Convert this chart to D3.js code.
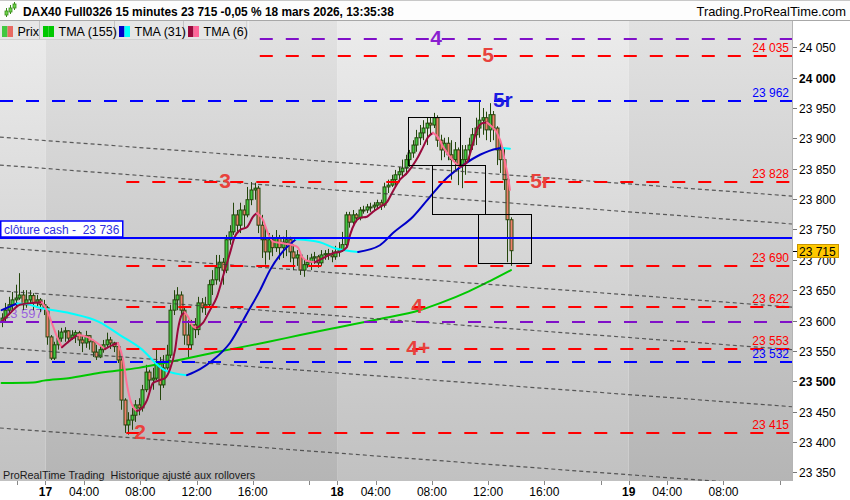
<!DOCTYPE html>
<html><head><meta charset="utf-8">
<script src="https://cdn.jsdelivr.net/npm/d3@7"></script>
<style>body{margin:0;background:#fff;}svg{display:block;font-family:"Liberation Sans",Arial,sans-serif;}</style>
</head><body><svg id="c" width="850" height="500"></svg>
<script>
// ---------------- DATA ----------------
const sessionDays = ["16", "17", "18", "19"];
const barsPerSession = 83;            // 01:15 -> 22:00, 15-minute bars
const sessionOpenHour = 1.25;
const visibleBarsDay16 = 13;
const viewWindow = [-12.95, 212.5];   // visible bar slots
const firstOpen = 23598;
const closes = [23604,23617,23626,23634,23637,23642,23626,23634,23641,23629,23634,23626,23621,
23573,23538,23560,23571,23581,23583,23571,23576,23580,23568,23563,23575,23565,23548,23540,23552,23560,23568,23563,23557,
23535,23469,23428,23436,23444,23461,23456,23486,23515,23502,23505,23532,23494,23522,23543,23617,23634,23642,23617,23576,
23560,23593,23585,23629,23621,23626,23659,23667,23687,23696,23683,23733,23746,23774,23757,23782,23774,23799,23815,23818,
23757,23733,23713,23733,23720,23736,23720,23729,23733,23713,23703,23708,23683,23692,23696,23703,23705,23695,23708,23710,
23708,23705,23713,
23716,23725,23774,23762,23774,23769,23782,23782,23787,23787,23790,23794,23790,23820,23823,23832,23840,23845,23851,23865,
23876,23889,23901,23909,23917,23925,23922,23934,23897,23881,23892,23873,23865,23881,23856,23865,23881,23889,23906,23917,
23930,23934,23914,23939,23917,23881,23865,23832,23766,23715];
const highs = [23612,23629,23639,23647,23659,23678,23650,23650,23650,23645,23642,23637,23634,
23624,23576,23565,23584,23588,23589,23584,23584,23584,23583,23576,23583,23576,23568,23560,23560,23568,23580,23573,23565,
23560,23543,23472,23449,23456,23469,23472,23494,23527,23519,23522,23552,23540,23543,23560,23626,23650,23655,23648,23621,
23601,23601,23604,23639,23637,23639,23667,23683,23708,23708,23703,23741,23757,23794,23782,23794,23790,23820,23828,23827,
23822,23774,23757,23744,23741,23749,23741,23738,23749,23738,23725,23716,23712,23700,23708,23710,23713,23708,23716,23716,
23718,23716,23723,
23729,23746,23779,23779,23782,23777,23787,23789,23792,23794,23795,23799,23799,23827,23832,23840,23848,23853,23865,23873,
23881,23897,23914,23922,23930,23934,23935,23942,23938,23906,23901,23902,23897,23894,23885,23889,23889,23901,23917,23934,
23963,23950,23944,23958,23945,23920,23897,23884,23835,23770];
const lows = [23589,23598,23609,23617,23621,23634,23617,23621,23626,23617,23621,23614,23609,
23560,23535,23535,23552,23565,23565,23565,23568,23563,23558,23548,23555,23552,23540,23535,23538,23547,23555,23553,23548,
23530,23453,23415,23412,23420,23433,23444,23450,23482,23486,23486,23502,23469,23489,23519,23538,23609,23617,23609,23560,
23540,23552,23571,23576,23613,23609,23621,23642,23659,23664,23659,23678,23725,23741,23746,23744,23753,23770,23790,23799,
23744,23703,23692,23700,23706,23713,23700,23703,23706,23696,23683,23690,23675,23672,23687,23683,23693,23687,23690,23700,
23700,23696,23700,
23705,23713,23720,23753,23758,23762,23765,23776,23777,23779,23782,23785,23782,23786,23810,23820,23823,23828,23836,23840,
23853,23868,23878,23889,23897,23889,23906,23917,23886,23864,23869,23864,23832,23848,23823,23818,23840,23864,23881,23889,
23901,23906,23897,23894,23897,23856,23843,23815,23696,23690];

// moving averages (bar index, value)
const tma155Bar = [0,9,12,19,28,39,48,62,76,85,96,108,119,125,133,139,145];
const tma155Val = [23497,23498,23501,23505,23514,23522,23532,23549,23565,23576,23589,23603,23617,23629,23648,23665,23683];
const tma31Bar = [0,4.4,7.2,10.9,19.5,28,33.7,39.4,46.5,52.8,56.5,60.2,65,69.9,73.6,76.4,80.4,83.8,90.6,94.9,101.5,107.7,111.4,117.1,122,126.8,131.4,136.2,141,142.5,144.7];
const tma31Val = [23617,23628,23627,23621,23612,23597,23576,23555,23518,23510,23520,23535,23563,23612,23650,23683,23716,23734,23729,23719,23713,23724,23744,23771,23804,23835,23856,23873,23883,23884,23883];
const tma6Bar = [0,2.4,5.2,8.9,11.5,12.9,14.3,15.8,17.2,18.6,20.3,21.7,24.3,27.2,29.4,31.7,33.1,34.6,35.7,36.8,38.5,39.4,41.4,43.1,45.1,46.5,47.9,49.4,50.2,51.4,52.2,53.1,54.5,55.6,57.3,59.3,61.3,63,65,66.4,67.9,69.9,71.6,72.7,74.4,75.8,77.3,79.3,81.2,83,84.4,85.5,87.2,89.2,90.6,92.6,94.3,96.3,98.3,99.2,100.6,102,104,105.7,107.7,109.7,111.4,113.4,115.4,117.1,118.5,120,121.4,122.8,124.2,125.7,127.7,129.1,130.5,132.5,133.9,135.3,136.8,138.2,139.6,141,142.5,143.3,144.2,144.7];
const tma6Val = [23598,23612,23626,23629,23630,23617,23596,23573,23556,23563,23571,23576,23573,23563,23553,23560,23563,23535,23494,23466,23451,23453,23469,23497,23502,23505,23519,23552,23585,23610,23613,23606,23590,23588,23596,23617,23639,23672,23711,23738,23749,23754,23771,23777,23766,23744,23730,23728,23726,23724,23720,23705,23698,23696,23700,23706,23711,23713,23721,23741,23761,23769,23771,23779,23787,23795,23813,23832,23843,23856,23869,23886,23902,23909,23902,23886,23869,23860,23853,23861,23886,23914,23925,23926,23919,23909,23886,23861,23836,23815];

// horizontal levels
const levelValues = [24063, 24035, 23962, 23828, 23736, 23690, 23622, 23597, 23553, 23532, 23415];
const levelKinds  = ["purple","red","blue","red","cash","red","red","purple","red","blue","red"];
const levelFromBar = [73.5, 73.5, -1, 35.5, -1, 35.5, 35.5, -1, 35.5, -1, 35.5];
const levelRightLabel = [false, true, true, true, false, true, true, false, true, true, true];
const cashLabel = "clôture cash -  23 736";
const leftLevelLabel = "23 597";

// wave labels
const waveText  = ["4", "5", "5r", "3", "5r", "4", "4+", "2"];
const waveBar   = [123.7, 138.5, 142.7, 63.6, 153.3, 118.3, 118.6, 39.4];
const wavePrice = [24063, 24035, 23962, 23828, 23828, 23622, 23553, 23415];
const waveKind  = ["purple","red","blue","red","red","red","red","red"];

// dotted channel lines
const trendStartBar = -0.5, trendEndBar = 225;
const trendStartPrice = [23902, 23856, 23720, 23649, 23555, 23423];
const trendEndPrice   = [23805, 23759, 23622, 23552, 23458, 23326];

// rectangles
const boxStartBar = [115.7, 122.5, 135.6];
const boxEndBar   = [130.5, 137.6, 150.7];
const boxTop      = [23935, 23856, 23775];
const boxBottom   = [23856, 23775, 23695];

// axes
const yTicks = [23350,23400,23450,23500,23550,23600,23650,23700,23750,23800,23850,23900,23950,24000,24050];
const yBoldTicks = [23500, 24000];
const hourTicks = [4, 8, 12, 16, 20];
const hourLabels = {4:"04:00", 8:"08:00", 12:"12:00", 16:"16:00"};
const lastPrice = 23715;

const titleText = "DAX40 Full0326 15 minutes 23 715 -0,05 % 18 mars 2026, 13:35:38";
const siteText = "Trading.ProRealTime.com";
const footText = "ProRealTime Trading  Historique ajusté aux rollovers";
const legendItems = ["Prix", "TMA (155)", "TMA (31)", "TMA (6)"];

// ---------------- STYLE ----------------
const col = {
  red: "#ff0000", blue: "#0000ff", purple: "#8010c8", cash: "#0000ff",
  waveRed: "#e8413c", waveBlue: "#1c1ce0", wavePurple: "#8a1ed0",
  up: "#40c840", down: "#f0806c", candleEdge: "#24460c",
  g155: "#00c800", b31: "#0000c8", c31: "#00ffff", r6: "#9a0a3c", p6: "#ff7097"
};
const PL = 0, PR = 792, PT = 21, PB = 481;

const svg = d3.select("#c");
const x = d3.scaleLinear().domain(viewWindow).range([PL, PR]);
const y = d3.scaleLinear().domain([23350, 24050]).range([472.3, 47.3]);
const slotOfBar = i => i - visibleBarsDay16 + 0.5;
const xb = i => x(slotOfBar(i));
const slotOfTime = (dayIdx, h) => (dayIdx - 1) * barsPerSession + (h - sessionOpenHour) * 4;
const fmt = v => d3.format(",")(v).replace(",", " ");

const defs = svg.append("defs");
defs.append("clipPath").attr("id", "pc").append("rect")
  .attr("x", PL).attr("y", PT).attr("width", PR - PL).attr("height", PB - PT);
function grad(id, c0, c1) {
  const g = defs.append("linearGradient").attr("id", id).attr("gradientUnits", "userSpaceOnUse")
    .attr("x1", 0).attr("y1", PT).attr("x2", 0).attr("y2", PB);
  g.append("stop").attr("offset", 0).attr("stop-color", c0);
  g.append("stop").attr("offset", 1).attr("stop-color", c1);
}
grad("gL", "#ececec", "#c1c1c1");
grad("gD", "#e2e2e2", "#b5b5b5");

svg.append("rect").attr("width", 850).attr("height", 500).attr("fill", "#fff");

const plot = svg.append("g").attr("clip-path", "url(#pc)");
sessionDays.forEach((d, k) => {
  const x0 = Math.max(PL, x((k - 1) * barsPerSession));
  const x1 = Math.min(PR, x(k * barsPerSession));
  if (x1 <= x0) return;
  plot.append("rect").attr("x", x0).attr("y", PT).attr("width", x1 - x0).attr("height", PB - PT)
    .attr("fill", k % 2 === 0 ? "url(#gL)" : "url(#gD)");
});

plot.append("text").attr("x", 3).attr("y", y(23597) - 4).text(leftLevelLabel)
  .attr("font-size", 13).attr("fill", "#9050e0").attr("opacity", 0.85);

// candles
closes.forEach((c, i) => {
  const o = i === 0 ? firstOpen : closes[i - 1];
  const cx = Math.round(xb(i));
  plot.append("line").attr("x1", cx + 0.5).attr("x2", cx + 0.5)
    .attr("y1", y(highs[i])).attr("y2", y(lows[i]))
    .attr("stroke", col.candleEdge).attr("stroke-width", 1);
  const top = y(Math.max(o, c)), bot = y(Math.min(o, c));
  plot.append("rect").attr("x", cx - 1).attr("width", 3)
    .attr("y", top).attr("height", Math.max(1, bot - top))
    .attr("fill", c >= o ? col.up : col.down)
    .attr("stroke", col.candleEdge).attr("stroke-width", 1);
});

// moving averages
function drawMA(bars, vals, upC, downC) {
  const pts = bars.map((b, k) => [xb(b), y(vals[k])]);
  const runs = [];
  let cur = null;
  for (let k = 1; k < pts.length; k++) {
    const c = vals[k] >= vals[k - 1] ? upC : downC;
    if (!cur || cur.c !== c) { cur = { c, p: [pts[k - 1]] }; runs.push(cur); }
    cur.p.push(pts[k]);
  }
  const line = d3.line().curve(d3.curveMonotoneX);
  runs.forEach(r => plot.append("path").attr("d", line(r.p)).attr("fill", "none")
    .attr("stroke", r.c).attr("stroke-width", 2).attr("stroke-linejoin", "round").attr("stroke-linecap", "round"));
}
drawMA(tma155Bar, tma155Val, col.g155, col.g155);
drawMA(tma31Bar, tma31Val, col.b31, col.c31);
drawMA(tma6Bar, tma6Val, col.r6, col.p6);

// dotted channel lines
trendStartPrice.forEach((p, k) => {
  plot.append("line").attr("x1", xb(trendStartBar)).attr("y1", y(p))
    .attr("x2", xb(trendEndBar)).attr("y2", y(trendEndPrice[k]))
    .attr("stroke", "#3a3a3a").attr("stroke-opacity", 0.8).attr("stroke-width", 1.2)
    .attr("stroke-dasharray", "4,3");
});

// horizontal levels
levelValues.forEach((v, k) => {
  const kind = levelKinds[k];
  const x0 = levelFromBar[k] < 0 ? PL : xb(levelFromBar[k]);
  const ly = Math.round(y(v));
  plot.append("line").attr("x1", x0).attr("x2", PR).attr("y1", ly).attr("y2", ly)
    .attr("stroke", col[kind]).attr("stroke-width", 2)
    .attr("stroke-dasharray", kind === "cash" ? null : "13,13");
  if (levelRightLabel[k]) {
    plot.append("text").attr("x", 789).attr("y", ly - 4).attr("text-anchor", "end")
      .attr("font-size", 12).attr("fill", col[kind]).text(fmt(v));
  }
});

// boxes
boxStartBar.forEach((b, k) => {
  plot.append("rect").attr("x", Math.round(xb(b)) + 0.5).attr("y", Math.round(y(boxTop[k])) + 0.5)
    .attr("width", Math.round(xb(boxEndBar[k]) - xb(b))).attr("height", Math.round(y(boxBottom[k]) - y(boxTop[k])))
    .attr("fill", "none").attr("stroke", "#000").attr("stroke-width", 1);
});

// wave labels
const waveColor = { red: col.waveRed, blue: col.waveBlue, purple: col.wavePurple };
waveText.forEach((t, k) => {
  plot.append("text").attr("x", xb(waveBar[k])).attr("y", y(wavePrice[k]) + 6)
    .attr("text-anchor", "middle").attr("font-size", 21).attr("font-weight", "bold")
    .attr("fill", waveColor[waveKind[k]]).text(t);
});

// cash label box
const cy = Math.round(y(23736));
plot.append("rect").attr("x", 0.75).attr("y", cy - 17).attr("width", 122).attr("height", 16)
  .attr("fill", "#fff").attr("stroke", col.cash).attr("stroke-width", 1.5);
plot.append("text").attr("x", 4).attr("y", cy - 4.5).attr("font-size", 12).attr("fill", "#3030dd")
  .style("white-space", "pre").text(cashLabel);

// footer note
plot.append("text").attr("x", 3).attr("y", 479).attr("font-size", 10.8).attr("fill", "#1a1a1a")
  .style("white-space", "pre").text(footText);

// ---------- right axis ----------
svg.append("rect").attr("x", PR).attr("y", PT).attr("width", 850 - PR).attr("height", 500 - PT).attr("fill", "#fff");
svg.append("line").attr("x1", PR + 0.5).attr("x2", PR + 0.5).attr("y1", PT).attr("y2", PB).attr("stroke", "#b4b4b4");
yTicks.forEach(v => {
  const ty = Math.round(y(v)) + 0.5;
  svg.append("line").attr("x1", PR + 1).attr("x2", PR + 5).attr("y1", ty).attr("y2", ty).attr("stroke", "#777");
  svg.append("text").attr("x", PR + 7).attr("y", ty + 4.5).attr("font-size", 12)
    .attr("font-weight", yBoldTicks.includes(v) ? "bold" : "normal").attr("fill", "#000")
    .text(fmt(v));
});
const lpY = y(lastPrice);
svg.append("line").attr("x1", PR + 1).attr("x2", PR + 5).attr("y1", Math.round(lpY) + 0.5).attr("y2", Math.round(lpY) + 0.5).attr("stroke", "#000");
svg.append("rect").attr("x", 797.5).attr("y", Math.round(lpY) - 6.5).attr("width", 41).attr("height", 13)
  .attr("fill", "#ffc800").attr("stroke", "#c89600");
svg.append("text").attr("x", 799).attr("y", Math.round(lpY) + 4.5).attr("font-size", 12).attr("fill", "#000")
  .text(fmt(lastPrice));

// ---------- bottom axis ----------
svg.append("rect").attr("x", 0).attr("y", PB).attr("width", PR).attr("height", 500 - PB).attr("fill", "#fff");
sessionDays.forEach((d, k) => {
  const xs = x(slotOfTime(k, sessionOpenHour));
  if (xs > 5 && xs < PR - 10) {
    svg.append("line").attr("x1", Math.round(xs) + 0.5).attr("x2", Math.round(xs) + 0.5).attr("y1", PB).attr("y2", PB + 4).attr("stroke", "#888");
    svg.append("text").attr("x", xs).attr("y", 496).attr("text-anchor", "middle").attr("font-size", 12)
      .attr("font-weight", "bold").text(d);
  }
  hourTicks.forEach(h => {
    const xh = x(slotOfTime(k, h));
    if (xh < PL + 2 || xh > PR - 2) return;
    svg.append("line").attr("x1", Math.round(xh) + 0.5).attr("x2", Math.round(xh) + 0.5).attr("y1", PB).attr("y2", PB + 4).attr("stroke", "#888");
    if (hourLabels[h] && xh < PR - 30) {
      svg.append("text").attr("x", xh).attr("y", 496).attr("text-anchor", "middle").attr("font-size", 12).text(hourLabels[h]);
    }
  });
});

// ---------- header ----------
svg.append("rect").attr("x", 0).attr("y", 0).attr("width", 850).attr("height", 20.5).attr("fill", "#fdfdfd");
svg.append("line").attr("x1", 0).attr("x2", 850).attr("y1", 0.5).attr("y2", 0.5).attr("stroke", "#c8c8c8");
svg.append("line").attr("x1", 0).attr("x2", 850).attr("y1", 20.5).attr("y2", 20.5).attr("stroke", "#a8a8a8");
[[6, 11, 15, 8, 17], [10, 8, 12, 5, 14], [14, 4, 8, 2, 10]].forEach(([ix, t, b, wt, wb]) => {
  svg.append("line").attr("x1", ix + 0.5).attr("x2", ix + 0.5).attr("y1", wt).attr("y2", wb).attr("stroke", "#3a8a1a");
  svg.append("rect").attr("x", ix - 1).attr("y", t).attr("width", 3).attr("height", b - t).attr("fill", "#6cd64c").attr("stroke", "#3a8a1a").attr("stroke-width", 0.8);
});
svg.append("text").attr("x", 23).attr("y", 15.5).attr("font-size", 11.9).attr("font-weight", "bold").text(titleText);
svg.append("text").attr("x", 846).attr("y", 15.5).attr("text-anchor", "end").attr("font-size", 12.9).text(siteText);

// legend
const legX = [0, 40, 115, 184, 247.5];
legendItems.forEach((t, k) => {
  const x0 = legX[k], x1 = legX[k + 1];
  svg.append("rect").attr("x", x0).attr("y", 21).attr("width", x1 - x0).attr("height", 19).attr("fill", "#e6e6e6");
  svg.append("line").attr("x1", x1 - 0.5).attr("x2", x1 - 0.5).attr("y1", 21).attr("y2", 40).attr("stroke", "#c4c4c4");
  svg.append("line").attr("x1", x1 + 0.5).attr("x2", x1 + 0.5).attr("y1", 21).attr("y2", 40).attr("stroke", "#f8f8f8");
});
svg.append("line").attr("x1", 0).attr("x2", 247.5).attr("y1", 39.5).attr("y2", 39.5).attr("stroke", "#d0d0d0");
const iconCols = [[col.up, "#e86a62"], [col.g155, col.g155], [col.b31, col.c31], [col.r6, "#ff6699"]];
const iconX = [2, 43, 119, 188];
const textX = [17.5, 58.5, 134.5, 203.5];
legendItems.forEach((t, k) => {
  svg.append("rect").attr("x", iconX[k]).attr("y", 26).attr("width", 5.5).attr("height", 11).attr("fill", iconCols[k][0]);
  svg.append("rect").attr("x", iconX[k] + 5.5).attr("y", 26).attr("width", 5.5).attr("height", 11).attr("fill", iconCols[k][1]);
  svg.append("text").attr("x", textX[k]).attr("y", 35.5).attr("font-size", 12.5).attr("fill", "#000").text(t);
});
</script></body></html>
